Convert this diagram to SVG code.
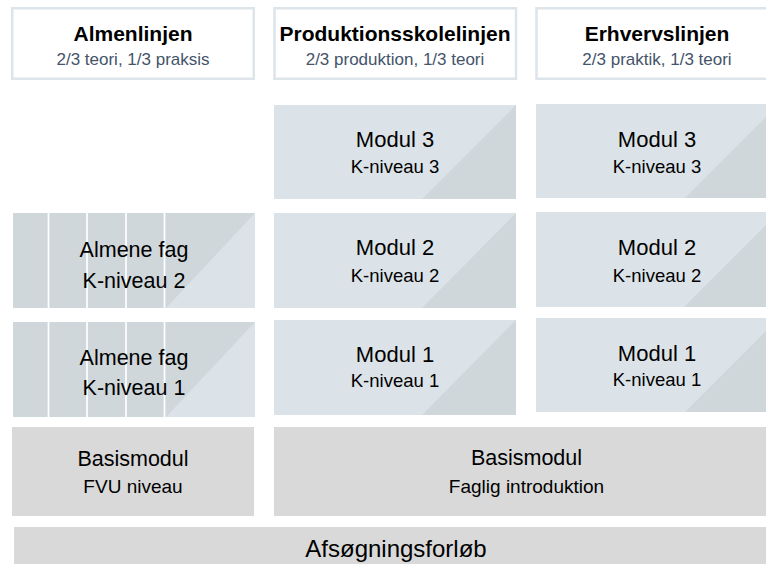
<svg xmlns="http://www.w3.org/2000/svg" width="766" height="564" viewBox="0 0 766 564">
<style>
text{font-family:"Liberation Sans",Arial,sans-serif;text-anchor:middle;fill:#000}
.hdr{fill:#fff;stroke:#dde4ea;stroke-width:2.5}
.ttl{font-weight:bold;font-size:21px}
.sub{font-size:17px;fill:#44546a}
.light{fill:#dce3e8}
.dark{fill:#cfd7da}
.gray{fill:#d9d9d9}
.stripe{stroke:#fff;stroke-width:1.7}
.big{font-size:22px}
.mid{font-size:21.5px}
.sm{font-size:18.5px}
.b19{font-size:19px}
</style>
<rect width="766" height="564" fill="#fff"/>
<g id="hdr-almen">
<rect class="hdr" x="12.25" y="8.25" width="241.5" height="70.5"/>
<text class="ttl" x="133" y="41">Almenlinjen</text>
<text class="sub" x="133" y="64.5">2/3 teori, 1/3 praksis</text>
</g>
<g id="hdr-prod">
<rect class="hdr" x="274.5" y="8.25" width="241.5" height="70.5"/>
<text class="ttl" x="395" y="41">Produktionsskolelinjen</text>
<text class="sub" x="395" y="64.5">2/3 produktion, 1/3 teori</text>
</g>
<g id="hdr-erhverv">
<rect class="hdr" x="536.5" y="8.25" width="241.5" height="70.5"/>
<text class="ttl" x="657" y="41">Erhvervslinjen</text>
<text class="sub" x="657" y="64.5">2/3 praktik, 1/3 teori</text>
</g>
<g id="prod-modul3">
<rect class="light" x="274" y="105" width="242" height="94"/>
<polygon class="dark" points="516,105 516,199 422,199"/>
<text class="big" x="395" y="147">Modul 3</text>
<text class="sm" x="395" y="173">K-niveau 3</text>
</g>
<g id="erhverv-modul3">
<rect class="light" x="536" y="104" width="243" height="94"/>
<polygon class="dark" points="779,104 779,198 685,198"/>
<text class="big" x="657" y="147">Modul 3</text>
<text class="sm" x="657" y="173">K-niveau 3</text>
</g>
<g id="almen-2">
<rect class="dark" x="13" y="213" width="242" height="95"/>
<polygon class="light" points="255,213 255,308 166,308"/>
<line class="stripe" x1="48.5" y1="213" x2="48.5" y2="308"/>
<line class="stripe" x1="87" y1="213" x2="87" y2="308"/>
<line class="stripe" x1="126" y1="213" x2="126" y2="308"/>
<line class="stripe" x1="164.5" y1="213" x2="164.5" y2="308"/>
<text class="mid" x="134" y="257">Almene fag</text>
<text class="mid" x="134" y="288">K-niveau 2</text>
</g>
<g id="prod-modul2">
<rect class="light" x="274" y="213" width="242" height="95"/>
<polygon class="dark" points="516,213 516,308 422,308"/>
<text class="big" x="395" y="255">Modul 2</text>
<text class="sm" x="395" y="282">K-niveau 2</text>
</g>
<g id="erhverv-modul2">
<rect class="light" x="536" y="212" width="243" height="95"/>
<polygon class="dark" points="779,212 779,307 684,307"/>
<text class="big" x="657" y="255">Modul 2</text>
<text class="sm" x="657" y="282">K-niveau 2</text>
</g>
<g id="almen-1">
<rect class="dark" x="13" y="322" width="242" height="95"/>
<polygon class="light" points="255,322 255,417 166,417"/>
<line class="stripe" x1="48.5" y1="322" x2="48.5" y2="417"/>
<line class="stripe" x1="87" y1="322" x2="87" y2="417"/>
<line class="stripe" x1="126" y1="322" x2="126" y2="417"/>
<line class="stripe" x1="164.5" y1="322" x2="164.5" y2="417"/>
<text class="mid" x="134" y="365">Almene fag</text>
<text class="mid" x="134" y="395">K-niveau 1</text>
</g>
<g id="prod-modul1">
<rect class="light" x="274" y="320" width="242" height="95"/>
<polygon class="dark" points="516,320 516,415 422,415"/>
<text class="big" x="395" y="362">Modul 1</text>
<text class="sm" x="395" y="387">K-niveau 1</text>
</g>
<g id="erhverv-modul1">
<rect class="light" x="536" y="318" width="243" height="94"/>
<polygon class="dark" points="779,318 779,412 685,412"/>
<text class="big" x="657" y="361">Modul 1</text>
<text class="sm" x="657" y="386">K-niveau 1</text>
</g>
<g id="basis-almen">
<rect class="gray" x="12" y="427" width="242" height="89"/>
<text class="mid" x="133" y="466">Basismodul</text>
<text class="b19" x="133" y="493">FVU niveau</text>
</g>
<g id="basis-faglig">
<rect class="gray" x="274" y="427" width="505" height="89"/>
<text class="mid" x="526.5" y="465">Basismodul</text>
<text class="b19" x="526.5" y="493">Faglig introduktion</text>
</g>
<g id="afsoegning">
<rect class="gray" x="14" y="527" width="765" height="40"/>
<text x="396" y="557" style="font-size:24px">Afsøgningsforløb</text>
</g>
<g id="connectors"></g>
</svg>
